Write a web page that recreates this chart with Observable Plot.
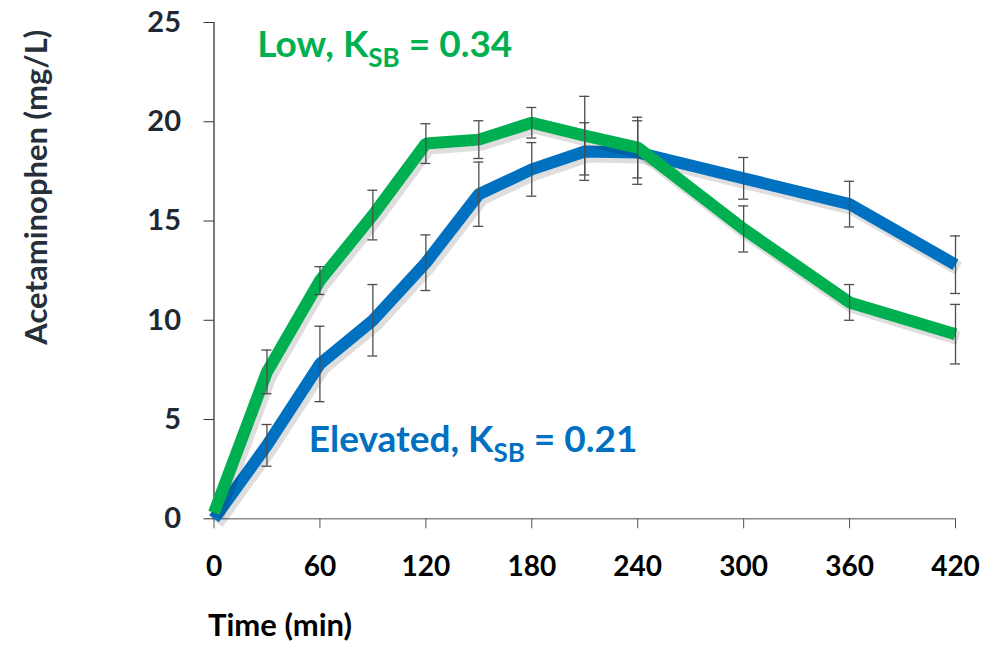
<!DOCTYPE html>
<html><head><meta charset="utf-8">
<script src="https://cdn.jsdelivr.net/npm/d3@7"></script>
<script src="https://cdn.jsdelivr.net/npm/@observablehq/plot@0.6"></script>
<style>
body{margin:0;background:#fff;}
</style></head><body><div id="chart"></div>
<script>
const times = [0, 30, 60, 90, 120, 150, 180, 210, 240, 300, 360, 420];
const lowMean = [0.3, 7.4, 12.0, 15.3, 18.9, 19.1, 19.95, 19.3, 18.7, 14.6, 10.9, 9.3];
const lowErr = [0, 1.1, 0.7, 1.25, 1.0, 0.95, 0.77, 1.98, 1.53, 1.16, 0.9, 1.5];
const elevMean = [0, 3.7, 7.8, 10.0, 12.9, 16.35, 17.6, 18.5, 18.45, 17.15, 15.85, 12.8];
const elevErr = [0, 1.05, 1.9, 1.8, 1.4, 1.62, 1.35, 1.45, 1.6, 1.05, 1.15, 1.45];
const xTicks = [0, 60, 120, 180, 240, 300, 360, 420];
const yTicks = [0, 5, 10, 15, 20, 25];
const annLabels = ["Low, K", "Elevated, K"];
const annSubs = ["SB", "SB"];
const annRest = [" = 0.34", " = 0.21"];
const annT = [24.5, 53.7];
const annV = [23.25, 3.36];
const GREEN = "#00B050", BLUE = "#0070C0";

const low = times.map((t, i) => ({t, v: lowMean[i], e: lowErr[i]}));
const elev = times.map((t, i) => ({t, v: elevMean[i], e: elevErr[i]}));

function bars(data) {
  const d = data.filter(p => p.e > 0);
  return [
    Plot.ruleX(d, {x: "t", y1: p => p.v - p.e, y2: p => p.v + p.e, stroke: "#4d4d4d", strokeWidth: 1.3}),
    Plot.ruleY(d, {x1: "t", x2: "t", y: p => p.v + p.e, insetLeft: -5, insetRight: -5, stroke: "#4d4d4d", strokeWidth: 1.3}),
    Plot.ruleY(d, {x1: "t", x2: "t", y: p => p.v - p.e, insetLeft: -5, insetRight: -5, stroke: "#4d4d4d", strokeWidth: 1.3})
  ];
}
function shadow(data) {
  return Plot.line(data, {x: "t", y: "v", stroke: "#000", strokeOpacity: 0.13, strokeWidth: 14, dx: 3, dy: 4, strokeLinejoin: "miter", strokeLinecap: "butt"});
}

const chart = Plot.plot({
  width: 989,
  height: 646,
  marginLeft: 213.5,
  marginRight: 34,
  marginTop: 22,
  marginBottom: 127.7,
  style: "font-family: Lato, 'Open Sans', sans-serif; font-weight: 700; background: #fff;",
  x: {domain: [0, 420]},
  y: {domain: [0, 25]},
  marks: [
    Plot.ruleY([0], {stroke: "#8c8c8c", strokeWidth: 1.5}),
    Plot.ruleX([0], {stroke: "#333", strokeWidth: 1.3}),
    Plot.axisX({ticks: xTicks, tickSize: 10, tickPadding: 27, fontSize: 28, fill: "#000", stroke: "#555", label: null}),
    Plot.axisY({ticks: yTicks, tickSize: 10, tickPadding: 23, fontSize: 29, fill: "#1f2833", stroke: "#333", label: null}),
    shadow(elev),
    Plot.line(elev, {x: "t", y: "v", stroke: BLUE, strokeWidth: 12, strokeLinejoin: "miter", strokeLinecap: "butt"}),
    ...bars(elev),
    shadow(low),
    Plot.line(low, {x: "t", y: "v", stroke: GREEN, strokeWidth: 12, strokeLinejoin: "miter", strokeLinecap: "butt"}),
    ...bars(low),
    Plot.text([0], {x: () => annT[0], y: () => annV[0], text: () => annLabels[0] + annSubs[0] + annRest[0], fill: GREEN, fontSize: 37, textAnchor: "start", lineAnchor: "bottom"}),
    Plot.text([1], {x: () => annT[1], y: () => annV[1], text: () => annLabels[1] + annSubs[1] + annRest[1], fill: BLUE, fontSize: 37, textAnchor: "start", lineAnchor: "bottom"}),
    Plot.text(["Acetaminophen (mg/L)"], {text: d => d, frameAnchor: "left", textAnchor: "middle", lineAnchor: "middle", rotate: -90, dx: -176.5, dy: -83.5, fontSize: 31, fill: "#262f3a"}),
    Plot.text(["Time (min)"], {text: d => d, frameAnchor: "bottom-left", textAnchor: "start", lineAnchor: "bottom", dx: -6, dy: 117, fontSize: 31, fill: "#000"})
  ]
});

const svg = d3.select(chart);
[0, 1].forEach(i => {
  const full = annLabels[i] + annSubs[i] + annRest[i];
  svg.selectAll("text").filter(function() { return this.textContent === full; }).each(function() {
    const t = d3.select(this);
    t.text(null);
    t.append("tspan").text(annLabels[i]);
    t.append("tspan").attr("font-size", 26).attr("dy", 10).text(annSubs[i]);
    t.append("tspan").attr("dy", -10).text(annRest[i]);
  });
});

document.getElementById("chart").appendChild(chart);
</script>
</body></html>
